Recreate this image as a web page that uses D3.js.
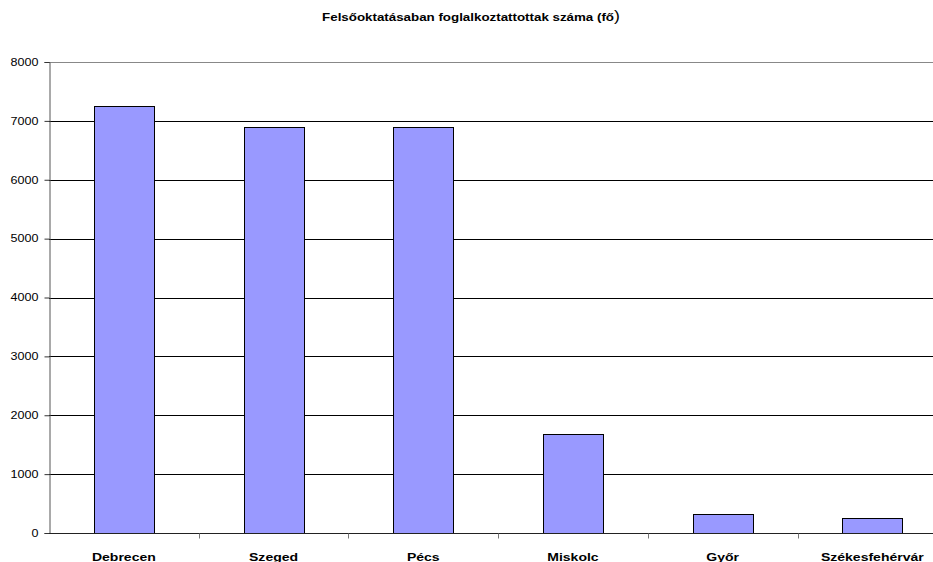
<!DOCTYPE html>
<html>
<head>
<meta charset="utf-8">
<script src="https://cdn.jsdelivr.net/npm/d3@7"></script>
<style>
  html, body { margin: 0; padding: 0; background: #fff; overflow: hidden; }
  svg { display: block; font-family: "Liberation Sans", Arial, sans-serif; }
</style>
</head>
<body>
<svg id="chart" width="933" height="562"></svg>
<script>
// Employees in higher education by city
const cities = ["Debrecen", "Szeged", "Pécs", "Miskolc", "Győr", "Székesfehérvár"];
const employees = [7260, 6890, 6895, 1680, 320, 255];
const yTicks = [0, 1000, 2000, 3000, 4000, 5000, 6000, 7000, 8000];
const title = "Felsőoktatásaban foglalkoztattottak száma (fő";

const svg = d3.select("#chart");
const margin = { left: 49, top: 62, bottom: 533 };
const bandW = 149.7;
const plotRight = margin.left + bandW * cities.length;
const stretch = 1.22; // wide glyph rendering used for all labels

const x = d3.scaleBand()
  .domain(cities)
  .range([margin.left, plotRight])
  .paddingInner(0.6)
  .paddingOuter(0.3);

const y = d3.scaleLinear()
  .domain([0, 8000])
  .range([margin.bottom, margin.top]);

// title
const t = svg.append("text")
  .attr("transform", `translate(471,21) scale(1.27,1)`)
  .attr("text-anchor", "middle")
  .attr("font-size", 10.5)
  .attr("font-weight", "bold");
t.append("tspan").text(title);
t.append("tspan").attr("font-size", 14).attr("font-weight", "normal").text(")");

// horizontal gridlines
svg.append("g")
  .selectAll("line")
  .data(yTicks.filter(d => d > 0))
  .join("line")
  .attr("x1", margin.left)
  .attr("x2", plotRight)
  .attr("y1", d => Math.round(y(d)) + 0.5)
  .attr("y2", d => Math.round(y(d)) + 0.5)
  .attr("stroke", d => d === 8000 ? "#888" : "#000")
  .attr("stroke-width", 1);

// bars
svg.append("g")
  .selectAll("rect")
  .data(cities)
  .join("rect")
  .attr("x", d => Math.round(x(d)) + 0.5)
  .attr("y", (d, i) => Math.round(y(employees[i])) + 0.5)
  .attr("width", Math.round(x.bandwidth()))
  .attr("height", (d, i) => Math.round(y(0)) - Math.round(y(employees[i])))
  .attr("fill", "#9999ff")
  .attr("stroke", "#000")
  .attr("stroke-width", 1);

// y axis
const yAxis = svg.append("g")
  .attr("transform", `translate(${margin.left + 0.5},0)`)
  .call(d3.axisLeft(y).tickValues(yTicks).tickSize(5).tickPadding(5).tickFormat(d3.format("d")));
yAxis.select(".domain").attr("stroke", "#555");
yAxis.selectAll(".tick line").attr("stroke", "#333");
yAxis.selectAll(".tick text")
  .attr("font-size", 10.3)
  .attr("fill", "#000")
  .attr("font-family", "Liberation Sans, Arial, sans-serif")
  .attr("x", null)
  .attr("transform", `translate(-11,0) scale(${stretch},1)`);

// x axis
const xAxis = svg.append("g")
  .attr("transform", `translate(0,${Math.round(y(0)) + 0.5})`);
xAxis.append("line")
  .attr("x1", margin.left)
  .attr("x2", plotRight)
  .attr("stroke", "#222");
xAxis.selectAll("line.sep")
  .data(d3.range(1, cities.length))
  .join("line")
  .attr("class", "sep")
  .attr("x1", i => Math.round(margin.left + i * bandW) + 0.5)
  .attr("x2", i => Math.round(margin.left + i * bandW) + 0.5)
  .attr("y1", 0)
  .attr("y2", 5)
  .attr("stroke", "#777");
xAxis.selectAll("text")
  .data(cities)
  .join("text")
  .attr("transform", d => `translate(${x(d) + x.bandwidth() / 2},27) scale(${stretch},1)`)
  .attr("text-anchor", "middle")
  .attr("font-size", 11.5)
  .attr("font-weight", "bold")
  .text(d => d);
</script>
</body>
</html>
